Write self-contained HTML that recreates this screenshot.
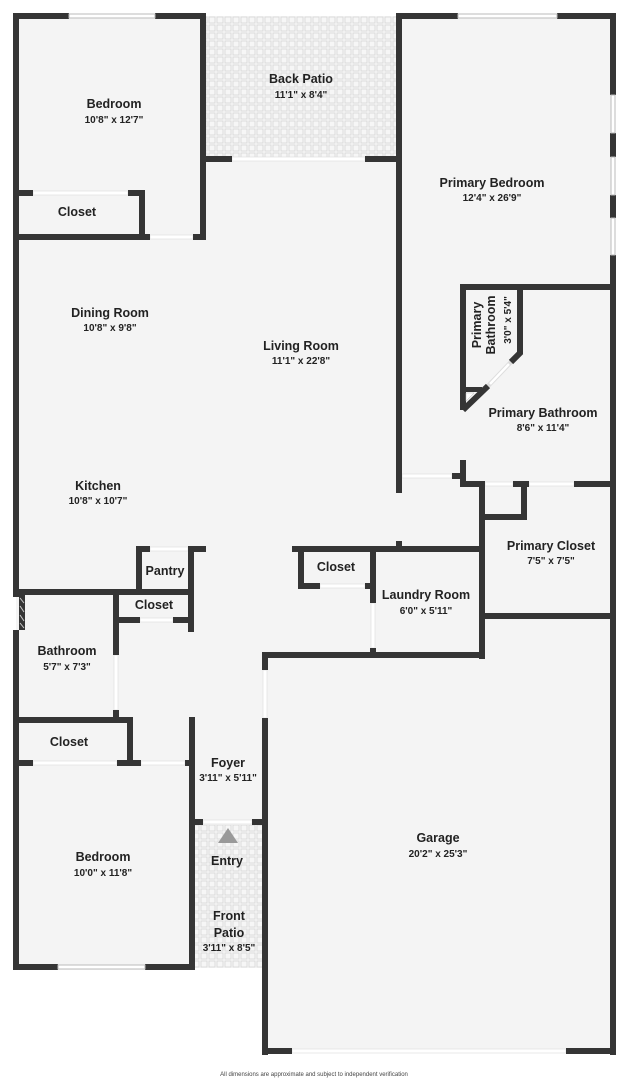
<!DOCTYPE html>
<html><head><meta charset="utf-8"><style>
html,body{margin:0;padding:0;background:#fff;}
svg{display:block;}
.n{font-family:"Liberation Sans",sans-serif;font-weight:bold;font-size:12.5px;fill:#222;text-anchor:middle;}
.d{font-family:"Liberation Sans",sans-serif;font-size:10px;fill:#222;text-anchor:middle;font-weight:bold;}
</style></head><body>
<svg width="629" height="1080" viewBox="0 0 629 1080" xmlns="http://www.w3.org/2000/svg">
<defs>
<pattern id="tile" width="8" height="8" patternUnits="userSpaceOnUse">
<rect width="8" height="8" fill="#f6f6f6"/>
<rect x="1" y="1" width="6" height="6" fill="none" stroke="#d6d6d6" stroke-width="0.8"/>
</pattern>
</defs>
<rect x="16" y="16" width="597" height="954" fill="#f4f4f4"/>
<rect x="265" y="655" width="348" height="396" fill="#f4f4f4"/>
<rect x="195" y="825" width="67" height="144" fill="url(#tile)"/>
<rect x="206" y="16" width="190" height="141" fill="url(#tile)"/>
<rect x="195" y="968" width="70" height="90" fill="#fff"/>
<rect x="13" y="970" width="250" height="90" fill="#fff"/>
<!-- door openings (white lines) -->
<g fill="#fff" stroke="#ddd" stroke-width="0.6">
<rect x="232" y="157" width="133" height="4"/>
<rect x="33" y="191" width="95" height="4"/>
<rect x="150" y="235" width="43" height="4"/>
<rect x="402" y="474" width="50" height="4"/>
<rect x="485" y="482" width="28" height="4"/>
<rect x="529" y="482" width="45" height="4"/>
<rect x="150" y="547" width="38" height="4"/>
<rect x="320" y="584" width="45" height="4"/>
<rect x="371" y="603" width="4" height="45"/>
<rect x="140" y="618" width="33" height="4"/>
<rect x="114" y="655" width="4" height="55"/>
<rect x="263" y="670" width="4" height="48"/>
<rect x="33" y="761" width="84" height="4"/>
<rect x="141" y="761" width="44" height="4"/>
<rect x="203" y="820" width="49" height="4"/>
<rect x="292" y="1049" width="274" height="4"/>
</g>
<g fill="#353535">
<rect x="13" y="13" width="56" height="6"/><rect x="155" y="13" width="51" height="6"/>
<rect x="396" y="13" width="62" height="6"/><rect x="557" y="13" width="59" height="6"/>
<rect x="13" y="13" width="6" height="584"/><rect x="13" y="630" width="6" height="340"/>
<rect x="610" y="13" width="6" height="82"/><rect x="610" y="133" width="6" height="24"/>
<rect x="610" y="195" width="6" height="23"/><rect x="610" y="255" width="6" height="800"/>
<rect x="200" y="13" width="6" height="227"/>
<rect x="13" y="190" width="20" height="6"/><rect x="128" y="190" width="17" height="6"/>
<rect x="139" y="190" width="6" height="50"/>
<rect x="13" y="234" width="137" height="6"/><rect x="193" y="234" width="13" height="6"/>
<rect x="206" y="156" width="26" height="6"/><rect x="365" y="156" width="37" height="6"/>
<rect x="396" y="13" width="6" height="480"/>
<rect x="460" y="284" width="156" height="6"/>
<rect x="460" y="284" width="6" height="126"/>
<rect x="517" y="284" width="6" height="70"/>
<rect x="460" y="387" width="22" height="5"/>
<rect x="460" y="460" width="6" height="27"/><rect x="452" y="473" width="10" height="6"/>
<rect x="396" y="473" width="6" height="6"/>
<rect x="460" y="481" width="25" height="6"/><rect x="513" y="481" width="16" height="6"/>
<rect x="574" y="481" width="42" height="6"/>
<rect x="479" y="481" width="6" height="178"/><rect x="521" y="481" width="6" height="39"/>
<rect x="479" y="514" width="48" height="6"/>
<rect x="479" y="613" width="137" height="6"/>
<rect x="292" y="546" width="193" height="6"/><rect x="396" y="541" width="6" height="6"/>
<rect x="370" y="546" width="6" height="57"/><rect x="370" y="648" width="6" height="8"/>
<rect x="262" y="652" width="223" height="6"/>
<rect x="298" y="546" width="6" height="43"/>
<rect x="298" y="583" width="22" height="6"/><rect x="365" y="583" width="11" height="6"/>
<rect x="262" y="652" width="6" height="18"/><rect x="262" y="718" width="6" height="337"/>
<rect x="262" y="1048" width="30" height="6"/><rect x="566" y="1048" width="50" height="6"/>
<rect x="136" y="546" width="14" height="6"/><rect x="188" y="546" width="18" height="6"/>
<rect x="136" y="546" width="6" height="47"/><rect x="188" y="546" width="6" height="86"/>
<rect x="13" y="589" width="181" height="6"/>
<rect x="19" y="595" width="6" height="35"/>
<rect x="113" y="589" width="6" height="66"/><rect x="113" y="710" width="6" height="13"/>
<rect x="113" y="617" width="27" height="6"/><rect x="173" y="617" width="21" height="6"/>
<rect x="13" y="717" width="120" height="6"/>
<rect x="127" y="717" width="6" height="49"/>
<rect x="13" y="760" width="20" height="6"/><rect x="117" y="760" width="24" height="6"/>
<rect x="185" y="760" width="10" height="6"/>
<rect x="189" y="717" width="6" height="253"/>
<rect x="195" y="819" width="8" height="6"/><rect x="252" y="819" width="12" height="6"/>
<rect x="13" y="964" width="45" height="6"/><rect x="145" y="964" width="50" height="6"/>
</g>
<!-- diagonal -->
<line x1="511" y1="362" x2="488" y2="386" stroke="#ddd" stroke-width="4.5"/>
<line x1="509" y1="364" x2="490" y2="384" stroke="#fff" stroke-width="2.5"/>
<line x1="521" y1="352" x2="511" y2="362" stroke="#353535" stroke-width="6"/>
<line x1="488" y1="386" x2="463" y2="410" stroke="#353535" stroke-width="6"/>
<polygon points="466,393 474,393 466,401" fill="#fff" stroke="#bbb" stroke-width="0.5"/>
<g fill="#fff" stroke="#bbb" stroke-width="1">
<rect x="69" y="14" width="86" height="4"/><rect x="458" y="14" width="99" height="4"/>
<rect x="611" y="95" width="4" height="38"/><rect x="611" y="157" width="4" height="38"/><rect x="611" y="218" width="4" height="37"/>
<rect x="58" y="965" width="87" height="4"/>
</g>
<g stroke="#ccc" stroke-width="1" fill="none">
<line x1="20" y1="598" x2="24" y2="603"/><line x1="20" y1="606" x2="24" y2="612"/><line x1="20" y1="615" x2="24" y2="621"/><line x1="20" y1="623" x2="24" y2="628"/>
</g>
<polygon points="228,828 238,843 218,843" fill="#999"/>
<text class="n" x="114" y="108">Bedroom</text><text class="d" x="114" y="123">10'8" x 12'7"</text>
<text class="n" x="77" y="216">Closet</text>
<text class="n" x="301" y="83">Back Patio</text><text class="d" x="301" y="98">11'1" x 8'4"</text>
<text class="n" x="492" y="187">Primary Bedroom</text><text class="d" x="492" y="201">12'4" x 26'9"</text>
<text class="n" x="110" y="317">Dining Room</text><text class="d" x="110" y="331">10'8" x 9'8"</text>
<text class="n" x="301" y="350">Living Room</text><text class="d" x="301" y="364">11'1" x 22'8"</text>
<text class="n" transform="translate(481,325) rotate(-90)">Primary</text>
<text class="n" transform="translate(495,325) rotate(-90)">Bathroom</text>
<text class="d" transform="translate(511,320) rotate(-90)">3'0" x 5'4"</text>
<text class="n" x="543" y="417">Primary Bathroom</text><text class="d" x="543" y="431">8'6" x 11'4"</text>
<text class="n" x="98" y="490">Kitchen</text><text class="d" x="98" y="504">10'8" x 10'7"</text>
<text class="n" x="551" y="550">Primary Closet</text><text class="d" x="551" y="564">7'5" x 7'5"</text>
<text class="n" x="336" y="571">Closet</text>
<text class="n" x="165" y="575">Pantry</text>
<text class="n" x="154" y="609">Closet</text>
<text class="n" x="426" y="599">Laundry Room</text><text class="d" x="426" y="614">6'0" x 5'11"</text>
<text class="n" x="67" y="655">Bathroom</text><text class="d" x="67" y="670">5'7" x 7'3"</text>
<text class="n" x="69" y="746">Closet</text>
<text class="n" x="228" y="767">Foyer</text><text class="d" x="228" y="781">3'11" x 5'11"</text>
<text class="n" x="438" y="842">Garage</text><text class="d" x="438" y="857">20'2" x 25'3"</text>
<text class="n" x="103" y="861">Bedroom</text><text class="d" x="103" y="876">10'0" x 11'8"</text>
<text class="n" x="227" y="865">Entry</text>
<text class="n" x="229" y="920">Front</text><text class="n" x="229" y="937">Patio</text><text class="d" x="229" y="951">3'11" x 8'5"</text>
<text x="314" y="1076" font-family="Liberation Sans,sans-serif" font-size="6" fill="#444" text-anchor="middle">All dimensions are approximate and subject to independent verification</text>
</svg>
</body></html>
